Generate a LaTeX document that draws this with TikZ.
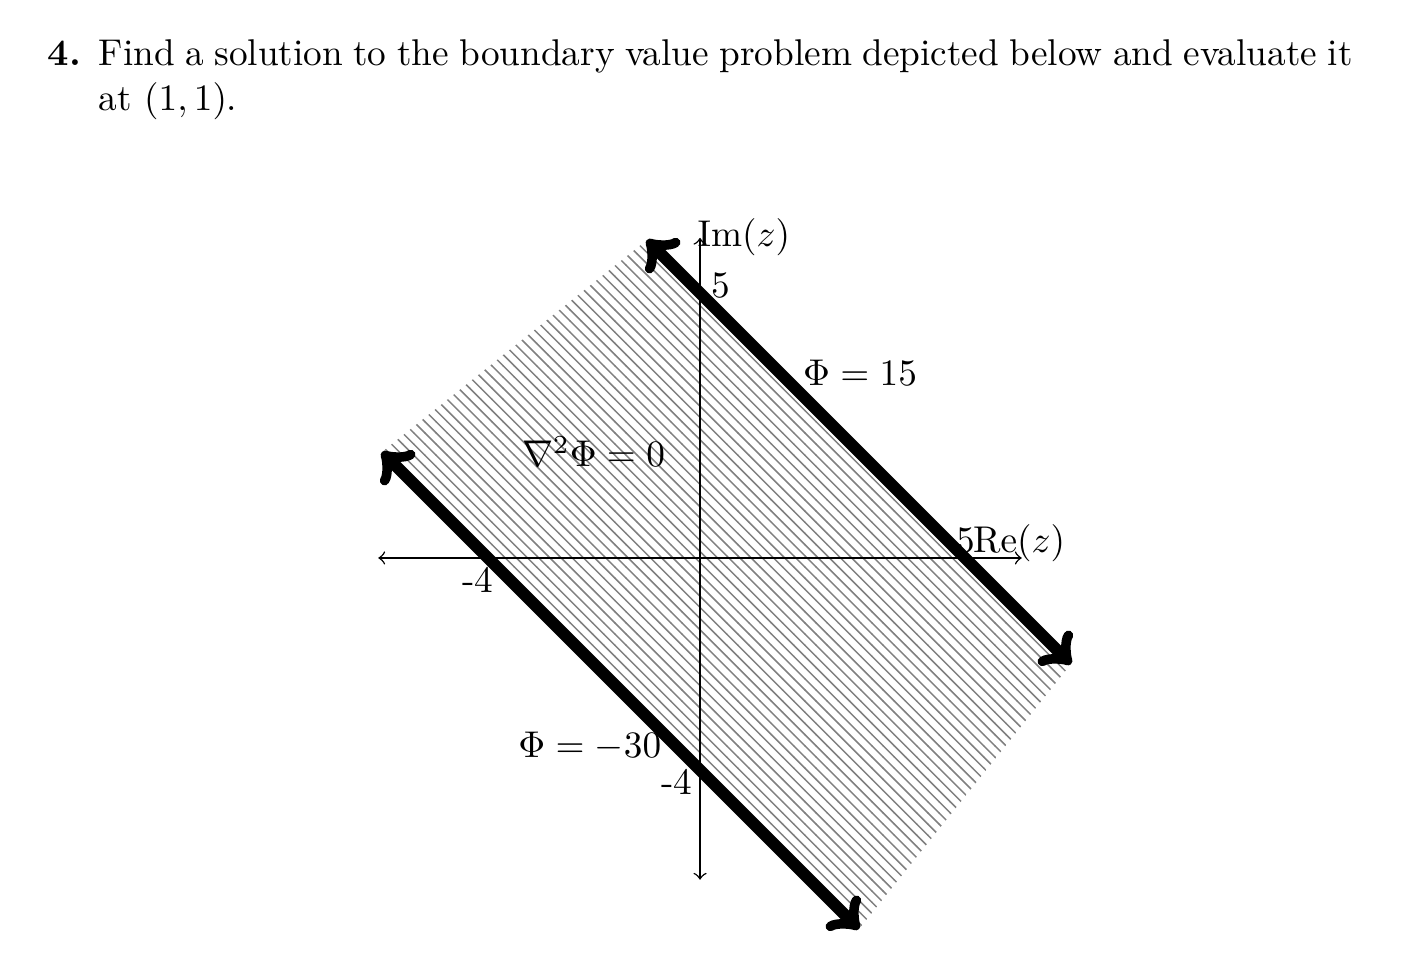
\documentclass[tikz,border=0pt]{standalone}
\usepackage{amsmath}
\usetikzlibrary{patterns}
\begin{document}
\begin{tikzpicture}[x=0.5cm,y=0.5cm,
    bvline/.style={<->, line width=3.2pt},
    lbl/.style={anchor=base, inner sep=0pt},
    lblw/.style={anchor=base west, inner sep=0pt}]
    \useasboundingbox (-13.208,-7.547) rectangle (13.358,10.528);
    % Problem statement
    \node[lblw] (num) at (-12.32,9.30) {\textbf{4.}};
    \node[lblw] (line1) at (-11.36,9.30) {\makebox[336.6pt][s]{Find a solution to the boundary value problem depicted below and evaluate it}};
    \node[lblw] (line2) at (-11.36,8.45) {at $(1,1)$.};
    % Region
    \fill[pattern=north west lines, pattern color=gray] (-1,6) -- (7,-2) -- (3,-7) -- (-6,2) -- cycle;
    % Axes
    \draw[<->] (-6.07,0) -- (6.07,0);
    \draw[<->] (0,-6.07) -- (0,6.04);
    % Boundaries
    \draw[bvline] (-1,6) -- (7,-2);
    \draw[bvline] (-6,2) -- (3,-7);
    % Labels
    \node[lbl] (phitop) at (3.02,3.26) {$\Phi = 15$};
    \node[lbl] (lap) at (-2.01,1.72) {$\nabla^2\Phi = 0$};
    \node[lbl] (phibot) at (-2.08,-3.77) {$\Phi = -30$};
    \node[lbl] (relab) at (6.02,0.11) {$\mathrm{Re}(z)$};
    \node[lblw] (imlab) at (-0.06,5.87) {$\mathrm{Im}(z)$};
    \node[lbl] (xfive) at (5.02,0.11) {5};
    \node[lblw] (yfive) at (0.2,4.91) {5};
    \node[lblw] (xmfour) at (-4.5,-0.66) {-4};
    \node[anchor=base east, inner sep=0pt] (ymfour) at (-0.13,-4.47) {-4};
\end{tikzpicture}
\end{document}
